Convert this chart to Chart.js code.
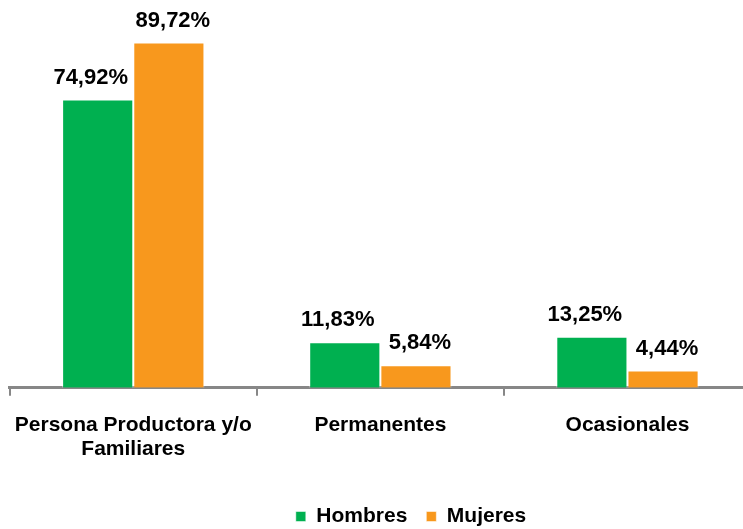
<!DOCTYPE html>
<html>
<head>
<meta charset="utf-8">
<script src="https://cdn.jsdelivr.net/npm/chart.js@4"></script>
<style>
  html, body { margin: 0; padding: 0; background: #fff; overflow: hidden; }
  #wrap { width: 743px; height: 529px; overflow: hidden; }
  #box { width: 755px; height: 537px; margin-left: -4px; }
</style>
</head>
<body>
<div id="wrap"><div id="box"><canvas id="chart-bar"></canvas></div></div>
<script>
const categories = [['Persona Productora y/o', 'Familiares'], 'Permanentes', 'Ocasionales'];
const hombres = [74.92, 11.83, 13.25];
const mujeres = [89.72, 5.84, 4.44];
const seriesNames = ['Hombres', 'Mujeres'];

const font = 'Liberation Sans, Arial, sans-serif';
// small sideways nudge of the value labels, per series
const labelShift = [-7, 4];

const valueLabels = {
  id: 'valueLabels',
  afterDatasetsDraw(chart) {
    const ctx = chart.ctx;
    ctx.save();
    ctx.font = 'bold 22px ' + font;
    ctx.fillStyle = '#000';
    ctx.textAlign = 'center';
    ctx.textBaseline = 'middle';
    chart.data.datasets.forEach((ds, i) => {
      chart.getDatasetMeta(i).data.forEach((bar, j) => {
        const txt = ds.data[j].toFixed(2).replace('.', ',') + '%';
        ctx.fillText(txt, bar.x + labelShift[i], bar.y - 22);
      });
    });
    ctx.restore();
  }
};

// legend sits a bit right of centre in the original
const legendShift = {
  id: 'legendShift',
  afterLayout(chart) {
    chart.legend.left += 32;
    chart.legend.right += 32;
  }
};

new Chart(document.getElementById('chart-bar'), {
  type: 'bar',
  data: {
    labels: categories,
    datasets: [{
      label: seriesNames[0],
      data: hombres,
      backgroundColor: 'rgb(0,176,80)',
      borderColor: 'rgba(255,255,255,0.5)',
      borderWidth: 1
    }, {
      label: seriesNames[1],
      data: mujeres,
      backgroundColor: 'rgb(248,152,29)',
      borderColor: 'rgba(255,255,255,0.5)',
      borderWidth: 1
    }]
  },
  options: {
    responsive: true,
    maintainAspectRatio: false,
    animation: false,
    layout: { padding: { top: 3, left: 11, right: 0, bottom: 0 } },
    datasets: { bar: { categoryPercentage: 0.576, barPercentage: 1 } },
    plugins: {
      tooltip: { enabled: false },
      legend: {
        position: 'bottom',
        labels: {
          boxWidth: 10,
          boxHeight: 10,
          padding: 19,
          color: '#000',
          font: { family: font, size: 21, weight: 'bold' }
        }
      }
    },
    scales: {
      x: {
        afterFit(scale) { scale.height += 9; },
        grid: {
          offset: true,
          drawOnChartArea: false,
          drawTicks: true,
          tickLength: 8,
          color: '#878787',
          lineWidth: 2
        },
        border: { color: '#878787', width: 3 },
        ticks: {
          color: '#000',
          padding: 17,
          maxRotation: 0,
          font: { family: font, size: 21, weight: 'bold', lineHeight: 1.15 }
        }
      },
      y: {
        display: false,
        min: 0,
        max: 100
      }
    }
  },
  plugins: [valueLabels, legendShift]
});
</script>
</body>
</html>
